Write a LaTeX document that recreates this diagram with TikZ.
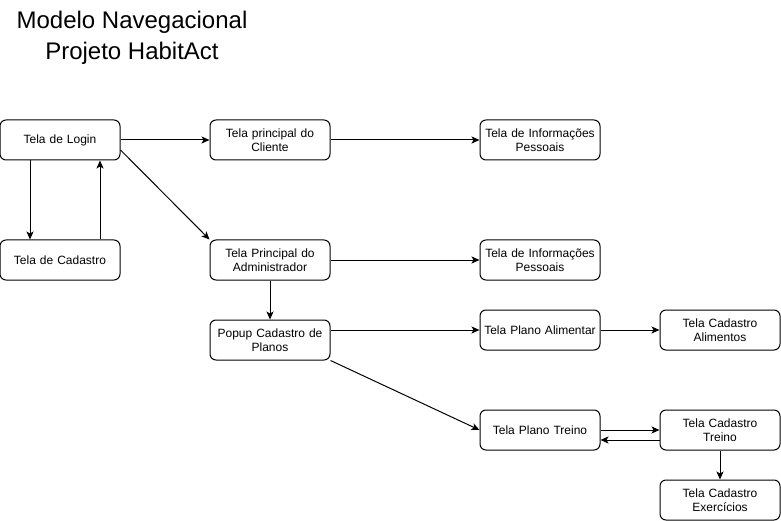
\documentclass[tikz,border=0pt]{standalone}
\usepackage{fontspec}
\setmainfont{Liberation Sans}
\usetikzlibrary{arrows.meta}
\begin{document}
\begin{tikzpicture}[x=1pt,y=-1pt,
  screen/.style={draw=black, line width=1pt, rounded corners=6pt, minimum width=120pt, minimum height=40pt, inner sep=2pt, align=center, font=\fontsize{12}{14}\selectfont, text width=116pt},
  link/.style={draw=black, line width=1pt, -{Stealth[length=8pt,width=7pt,inset=2pt]}}]
\useasboundingbox (0,0) rectangle (781,521);
\node[align=center, font=\fontsize{24}{31}\selectfont] (title) at (132,38) {Modelo Navegacional\\Projeto HabitAct};
\node[screen] (login) at (60,140) {Tela de Login};
\node[screen] (cad) at (60,260) {Tela de Cadastro};
\node[screen] (cli) at (270,140) {Tela principal do\\Cliente};
\node[screen] (info1) at (540,140) {Tela de Informações\\Pessoais};
\node[screen] (adm) at (270,260) {Tela Principal do\\Administrador};
\node[screen] (info2) at (540,260) {Tela de Informações\\Pessoais};
\node[screen] (popup) at (270,340) {Popup Cadastro de\\Planos};
\node[screen] (alim) at (540,330) {Tela Plano Alimentar};
\node[screen] (cadalim) at (720,330) {Tela Cadastro\\Alimentos};
\node[screen] (treino) at (540,430) {Tela Plano Treino};
\node[screen] (cadtreino) at (720,430) {Tela Cadastro\\Treino};
\node[screen] (exerc) at (720,500) {Tela Cadastro\\Exercícios};
\draw[link] (login.east) -- (cli.west);
\draw[link] ([yshift=-10pt]login.east) -- (adm.north west);
\draw[link] ([xshift=-30pt]login.south) -- ([xshift=-30pt]cad.north);
\draw[link] ([xshift=40pt]cad.north) -- ([xshift=40pt]login.south);
\draw[link] (cli.east) -- (info1.west);
\draw[link] (adm.east) -- (info2.west);
\draw[link] (adm.south) -- (popup.north);
\draw[link] ([yshift=10pt]popup.east) -- (alim.west);
\draw[link] (popup.south east) -- (treino.west);
\draw[link] (alim.east) -- (cadalim.west);
\draw[link] (treino.east) -- (cadtreino.west);
\draw[link] ([yshift=-10pt]cadtreino.west) -- ([yshift=-10pt]treino.east);
\draw[link] (cadtreino.south) -- (exerc.north);
\end{tikzpicture}
\end{document}
